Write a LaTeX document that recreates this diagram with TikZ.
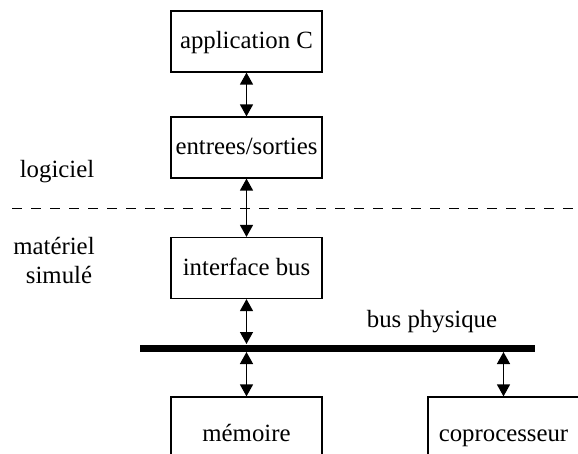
\documentclass[tikz,border=0pt]{standalone}
\usepackage{fontspec}
\setmainfont{Liberation Serif}
\usetikzlibrary{arrows.meta}

\begin{document}
\begin{tikzpicture}[x=0.5pt,y=-0.5pt]

    \def\xpile{246.5}
    \def\xcopro{503.5}
    \def\ybus{348}
    \def\ybas{434}

    % Styles
    \tikzset{
      bloc/.style={draw,line width=0.6pt,minimum width=75.5pt,minimum height=30.5pt,
                   inner sep=0pt,text height=0.92em,text depth=0.19em,
                   font=\fontsize{12.4}{15}\selectfont},
      lien/.style={{Triangle[length=6pt,width=6.5pt]}-{Triangle[length=6pt,width=6.5pt]},line width=0.7pt},
      texte/.style={anchor=base,inner sep=0pt,font=\fontsize{12.4}{15}\selectfont}
    }

    \clip (0,0) rectangle (578,454);

    % software stack
    \node[bloc] (appli) at (\xpile,41.5) {application C};
    \node[bloc] (es) at (\xpile,147.5) {entrees/sorties};
    \draw[lien] (appli.south) -- (es.north);

    % separation logiciel / materiel
    \coordinate (sepg) at (12,209);
    \coordinate (sepd) at (578,209);
    \draw[line width=0.5pt,dash pattern=on 5pt off 4.5pt] (sepg) -- (sepd);
    \node[texte] (logiciel) at (57,178) {logiciel};
    \node[texte] (materiel) at (54,255) {matériel};
    \node[texte] (simule) at (59,284) {simulé};

    % interface bus
    \node[bloc] (ibus) at (\xpile,268) {interface bus};
    \draw[lien] (es.south) -- (ibus.north);

    % bus physique
    \coordinate (busg) at (140,\ybus);
    \coordinate (busd) at (535,\ybus);
    \draw[line width=3.5pt] (busg) -- (busd);
    \node[texte] (nombus) at (432,328) {bus physique};
    \coordinate (bush) at (\xpile,344);
    \coordinate (busb) at (\xpile,352);
    \coordinate (buscp) at (\xcopro,352);
    \draw[lien] (ibus.south) -- (bush);

    % memoire and coprocesseur
    \node[bloc,minimum height=37pt] (mem) at (\xpile,\ybas) {mémoire};
    \node[bloc,minimum height=37pt] (copro) at (\xcopro,\ybas) {coprocesseur};
    \draw[lien] (busb) -- (mem.north);
    \draw[lien] (buscp) -- (copro.north);

\end{tikzpicture}
\end{document}
